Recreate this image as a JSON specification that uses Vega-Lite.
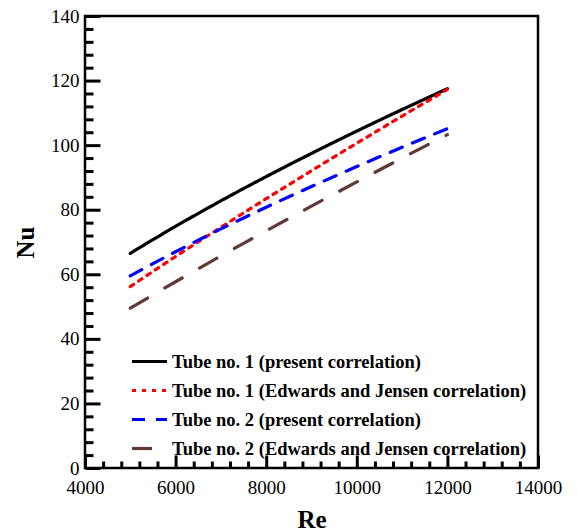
{
  "$schema": "https://vega.github.io/schema/vega-lite/v6.json",
  "width": 453,
  "height": 452,
  "autosize": "none",
  "padding": {"left": 85, "top": 16, "right": 39, "bottom": 64},
  "background": "white",
  "config": {
    "view": {"stroke": "black", "strokeWidth": 2.5},
    "font": "Liberation Serif"
  },
  "data": {
    "values": [
      {"s": "Tube no. 1 (present correlation)", "Re": 5000, "Nu": 66.5},
      {"s": "Tube no. 1 (present correlation)", "Re": 5500, "Nu": 70.75},
      {"s": "Tube no. 1 (present correlation)", "Re": 6000, "Nu": 74.87},
      {"s": "Tube no. 1 (present correlation)", "Re": 6500, "Nu": 78.86},
      {"s": "Tube no. 1 (present correlation)", "Re": 7000, "Nu": 82.76},
      {"s": "Tube no. 1 (present correlation)", "Re": 7500, "Nu": 86.56},
      {"s": "Tube no. 1 (present correlation)", "Re": 8000, "Nu": 90.26},
      {"s": "Tube no. 1 (present correlation)", "Re": 8500, "Nu": 93.88},
      {"s": "Tube no. 1 (present correlation)", "Re": 9000, "Nu": 97.44},
      {"s": "Tube no. 1 (present correlation)", "Re": 9500, "Nu": 100.93},
      {"s": "Tube no. 1 (present correlation)", "Re": 10000, "Nu": 104.35},
      {"s": "Tube no. 1 (present correlation)", "Re": 10500, "Nu": 107.72},
      {"s": "Tube no. 1 (present correlation)", "Re": 11000, "Nu": 111.02},
      {"s": "Tube no. 1 (present correlation)", "Re": 11500, "Nu": 114.27},
      {"s": "Tube no. 1 (present correlation)", "Re": 12000, "Nu": 117.48},
      {"s": "Tube no. 1 (Edwards and Jensen correlation)", "Re": 5000, "Nu": 56.2},
      {"s": "Tube no. 1 (Edwards and Jensen correlation)", "Re": 5500, "Nu": 60.89},
      {"s": "Tube no. 1 (Edwards and Jensen correlation)", "Re": 6000, "Nu": 65.5},
      {"s": "Tube no. 1 (Edwards and Jensen correlation)", "Re": 6500, "Nu": 70.06},
      {"s": "Tube no. 1 (Edwards and Jensen correlation)", "Re": 7000, "Nu": 74.55},
      {"s": "Tube no. 1 (Edwards and Jensen correlation)", "Re": 7500, "Nu": 79.01},
      {"s": "Tube no. 1 (Edwards and Jensen correlation)", "Re": 8000, "Nu": 83.41},
      {"s": "Tube no. 1 (Edwards and Jensen correlation)", "Re": 8500, "Nu": 87.76},
      {"s": "Tube no. 1 (Edwards and Jensen correlation)", "Re": 9000, "Nu": 92.08},
      {"s": "Tube no. 1 (Edwards and Jensen correlation)", "Re": 9500, "Nu": 96.36},
      {"s": "Tube no. 1 (Edwards and Jensen correlation)", "Re": 10000, "Nu": 100.6},
      {"s": "Tube no. 1 (Edwards and Jensen correlation)", "Re": 10500, "Nu": 104.81},
      {"s": "Tube no. 1 (Edwards and Jensen correlation)", "Re": 11000, "Nu": 108.99},
      {"s": "Tube no. 1 (Edwards and Jensen correlation)", "Re": 11500, "Nu": 113.13},
      {"s": "Tube no. 1 (Edwards and Jensen correlation)", "Re": 12000, "Nu": 117.25},
      {"s": "Tube no. 2 (present correlation)", "Re": 5000, "Nu": 59.5},
      {"s": "Tube no. 2 (present correlation)", "Re": 5500, "Nu": 63.3},
      {"s": "Tube no. 2 (present correlation)", "Re": 6000, "Nu": 66.99},
      {"s": "Tube no. 2 (present correlation)", "Re": 6500, "Nu": 70.56},
      {"s": "Tube no. 2 (present correlation)", "Re": 7000, "Nu": 74.05},
      {"s": "Tube no. 2 (present correlation)", "Re": 7500, "Nu": 77.45},
      {"s": "Tube no. 2 (present correlation)", "Re": 8000, "Nu": 80.76},
      {"s": "Tube no. 2 (present correlation)", "Re": 8500, "Nu": 84.0},
      {"s": "Tube no. 2 (present correlation)", "Re": 9000, "Nu": 87.19},
      {"s": "Tube no. 2 (present correlation)", "Re": 9500, "Nu": 90.3},
      {"s": "Tube no. 2 (present correlation)", "Re": 10000, "Nu": 93.37},
      {"s": "Tube no. 2 (present correlation)", "Re": 10500, "Nu": 96.38},
      {"s": "Tube no. 2 (present correlation)", "Re": 11000, "Nu": 99.34},
      {"s": "Tube no. 2 (present correlation)", "Re": 11500, "Nu": 102.24},
      {"s": "Tube no. 2 (present correlation)", "Re": 12000, "Nu": 105.11},
      {"s": "Tube no. 2 (Edwards and Jensen correlation)", "Re": 5000, "Nu": 49.5},
      {"s": "Tube no. 2 (Edwards and Jensen correlation)", "Re": 5500, "Nu": 53.63},
      {"s": "Tube no. 2 (Edwards and Jensen correlation)", "Re": 6000, "Nu": 57.69},
      {"s": "Tube no. 2 (Edwards and Jensen correlation)", "Re": 6500, "Nu": 61.71},
      {"s": "Tube no. 2 (Edwards and Jensen correlation)", "Re": 7000, "Nu": 65.67},
      {"s": "Tube no. 2 (Edwards and Jensen correlation)", "Re": 7500, "Nu": 69.59},
      {"s": "Tube no. 2 (Edwards and Jensen correlation)", "Re": 8000, "Nu": 73.46},
      {"s": "Tube no. 2 (Edwards and Jensen correlation)", "Re": 8500, "Nu": 77.3},
      {"s": "Tube no. 2 (Edwards and Jensen correlation)", "Re": 9000, "Nu": 81.1},
      {"s": "Tube no. 2 (Edwards and Jensen correlation)", "Re": 9500, "Nu": 84.87},
      {"s": "Tube no. 2 (Edwards and Jensen correlation)", "Re": 10000, "Nu": 88.61},
      {"s": "Tube no. 2 (Edwards and Jensen correlation)", "Re": 10500, "Nu": 92.31},
      {"s": "Tube no. 2 (Edwards and Jensen correlation)", "Re": 11000, "Nu": 96.0},
      {"s": "Tube no. 2 (Edwards and Jensen correlation)", "Re": 11500, "Nu": 99.64},
      {"s": "Tube no. 2 (Edwards and Jensen correlation)", "Re": 12000, "Nu": 103.27}
    ]
  },
  "layer": [
    {
      "mark": {"type": "line", "opacity": 0},
      "encoding": {
        "x": {"field": "Re", "type": "quantitative", "scale": {"domain": [4000, 14000], "nice": false},
          "axis": {"orient": "bottom", "offset": -7, "values": [4400, 4800, 5200, 5600, 6400, 6800, 7200, 7600, 8400, 8800, 9200, 9600, 10400, 10800, 11200, 11600, 12400, 12800, 13200, 13600], "labels": false, "domain": false, "grid": false, "title": null, "tickSize": 7, "tickWidth": 3, "tickColor": "#000000", "tickRound": false}},
        "y": {"field": "Nu", "type": "quantitative", "scale": {"domain": [0, 140], "nice": false},
          "axis": {"orient": "left", "offset": -8, "values": [4, 8, 12, 16, 24, 28, 32, 36, 44, 48, 52, 56, 64, 68, 72, 76, 84, 88, 92, 96, 104, 108, 112, 116, 124, 128, 132, 136], "labels": false, "domain": false, "grid": false, "title": null, "tickSize": 8, "tickWidth": 3, "tickColor": "#000000", "tickRound": false}},
        "detail": {"field": "s"}
      }
    },
    {
      "mark": {"type": "line", "strokeWidth": 3.2, "strokeCap": "round"},
      "encoding": {
        "x": {"field": "Re", "type": "quantitative", "scale": {"domain": [4000, 14000], "nice": false},
          "axis": {"orient": "bottom", "offset": -13, "values": [4000, 6000, 8000, 10000, 12000, 14000], "format": "d", "grid": false, "title": "Re", "titleFontSize": 25, "titleFontWeight": "bold", "titleColor": "black", "titlePadding": 10, "labelFontSize": 19, "labelColor": "black", "labelFontWeight": "normal", "labelPadding": 10, "tickSize": 13, "tickWidth": 3, "tickColor": "#000000", "tickRound": false, "domain": false, "labelFlush": false}},
        "y": {"field": "Nu", "type": "quantitative", "scale": {"domain": [0, 140], "nice": false},
          "axis": {"orient": "left", "offset": -15, "values": [0, 20, 40, 60, 80, 100, 120, 140], "format": "d", "grid": false, "title": "Nu", "titleFontSize": 25, "titleFontWeight": "bold", "titleColor": "black", "titlePadding": 12, "labelFontSize": 19, "labelColor": "black", "labelPadding": 6, "tickSize": 15, "tickWidth": 3, "tickColor": "#000000", "tickRound": false, "domain": false, "labelFlush": false}},
        "color": {"field": "s", "type": "nominal",
          "scale": {"domain": ["Tube no. 1 (present correlation)", "Tube no. 1 (Edwards and Jensen correlation)", "Tube no. 2 (present correlation)", "Tube no. 2 (Edwards and Jensen correlation)"], "range": ["#000000", "#ff0000", "#0000ff", "#603a36"]},
          "legend": {"title": null, "orient": "none", "legendX": 45, "legendY": 326, "symbolType": "stroke", "symbolSize": 1225, "symbolStrokeWidth": 3.2, "labelFontSize": 18.5, "labelFontWeight": "bold", "labelColor": "black", "labelLimit": 400, "rowPadding": -15, "labelOffset": 3}},
        "strokeDash": {"field": "s", "type": "nominal",
          "scale": {"domain": ["Tube no. 1 (present correlation)", "Tube no. 1 (Edwards and Jensen correlation)", "Tube no. 2 (present correlation)", "Tube no. 2 (Edwards and Jensen correlation)"], "range": [[1, 0], [4, 6], [13, 11], [20, 20]]},
          "legend": {"title": null, "orient": "none", "legendX": 45, "legendY": 326, "symbolType": "stroke", "symbolSize": 1225, "symbolStrokeWidth": 3.2, "labelFontSize": 18.5, "labelFontWeight": "bold", "labelColor": "black", "labelLimit": 400, "rowPadding": -15, "labelOffset": 3}}
      }
    }
  ],
  "resolve": {"axis": {"x": "independent", "y": "independent"}}
}
